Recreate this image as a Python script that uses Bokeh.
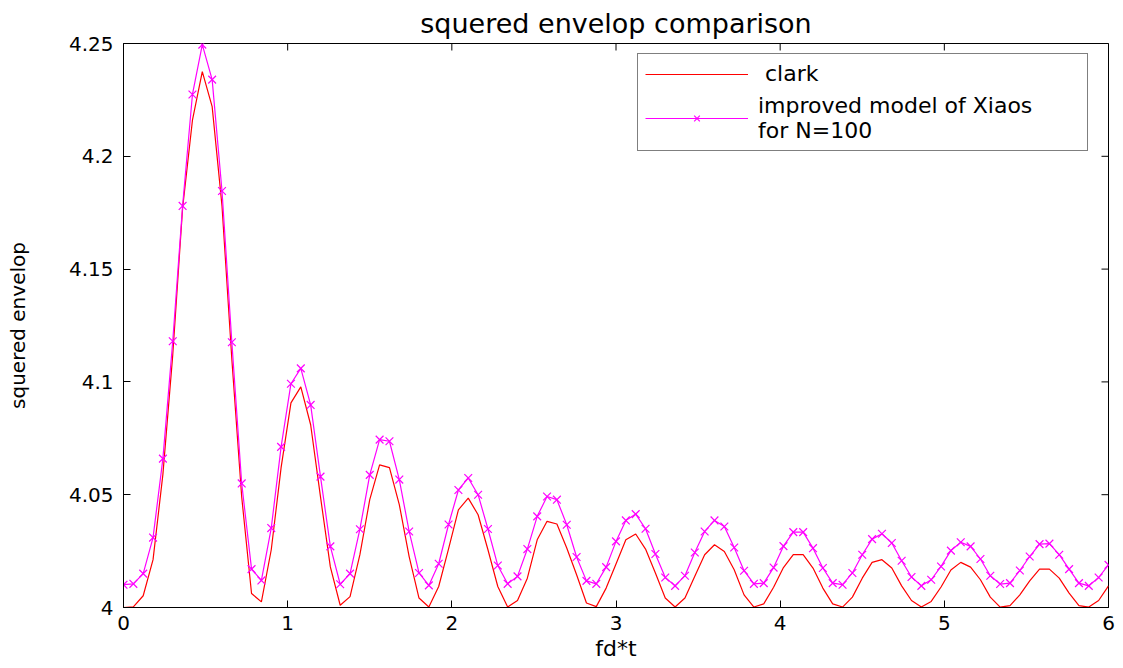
import math
from bokeh.plotting import figure
from bokeh.models import (Range1d, FixedTicker, Legend, LegendItem,
                          CustomJSTickFormatter)
from bokeh.embed import file_html
from bokeh.resources import INLINE

# ---------------- data ----------------
fd_t = [0.00, 0.06, 0.12, 0.18, 0.24, 0.30, 0.36, 0.42, 0.48, 0.54,
        0.60, 0.66, 0.72, 0.78, 0.84, 0.90, 0.96, 1.02, 1.08, 1.14,
        1.20, 1.26, 1.32, 1.38, 1.44, 1.50, 1.56, 1.62, 1.68, 1.74,
        1.80, 1.86, 1.92, 1.98, 2.04, 2.10, 2.16, 2.22, 2.28, 2.34,
        2.40, 2.46, 2.52, 2.58, 2.64, 2.70, 2.76, 2.82, 2.88, 2.94,
        3.00, 3.06, 3.12, 3.18, 3.24, 3.30, 3.36, 3.42, 3.48, 3.54,
        3.60, 3.66, 3.72, 3.78, 3.84, 3.90, 3.96, 4.02, 4.08, 4.14,
        4.20, 4.26, 4.32, 4.38, 4.44, 4.50, 4.56, 4.62, 4.68, 4.74,
        4.80, 4.86, 4.92, 4.98, 5.04, 5.10, 5.16, 5.22, 5.28, 5.34,
        5.40, 5.46, 5.52, 5.58, 5.64, 5.70, 5.76, 5.82, 5.88, 5.94,
        6.00]

clark = [4.0000, 4.0003, 4.0052, 4.0212, 4.0590, 4.1120, 4.1770, 4.2160, 4.2375, 4.2220,
         4.1780, 4.1100, 4.0490, 4.0062, 4.0025, 4.0256, 4.0620, 4.0907, 4.0978, 4.0810,
         4.0490, 4.0180, 4.0010, 4.0048, 4.0234, 4.0478, 4.0632, 4.0620, 4.0456, 4.0226,
         4.0042, 4.0002, 4.0093, 4.0260, 4.0433, 4.0485, 4.0411, 4.0256, 4.0093, 4.0002,
         4.0031, 4.0130, 4.0300, 4.0382, 4.0370, 4.0264, 4.0145, 4.0020, 4.0004, 4.0086,
         4.0193, 4.0300, 4.0326, 4.0259, 4.0153, 4.0042, 4.0002, 4.0042, 4.0138, 4.0234,
         4.0278, 4.0248, 4.0167, 4.0056, 4.0002, 4.0016, 4.0090, 4.0177, 4.0234, 4.0234,
         4.0175, 4.0086, 4.0016, 4.0002, 4.0046, 4.0130, 4.0200, 4.0212, 4.0175, 4.0096,
         4.0031, 4.0002, 4.0027, 4.0091, 4.0166, 4.0200, 4.0179, 4.0123, 4.0046, 4.0002,
         4.0008, 4.0056, 4.0118, 4.0170, 4.0170, 4.0130, 4.0064, 4.0008, 4.0002, 4.0031,
         4.0096]

xiao = [4.0101, 4.0105, 4.0150, 4.0310, 4.0660, 4.1180, 4.1780, 4.2274, 4.2495, 4.2340,
        4.1846, 4.1176, 4.0550, 4.0170, 4.0120, 4.0352, 4.0712, 4.0992, 4.1060, 4.0898,
        4.0580, 4.0271, 4.0103, 4.0150, 4.0347, 4.0588, 4.0744, 4.0737, 4.0567, 4.0337,
        4.0153, 4.0098, 4.0194, 4.0368, 4.0521, 4.0574, 4.0500, 4.0348, 4.0186, 4.0105,
        4.0138, 4.0259, 4.0404, 4.0492, 4.0478, 4.0367, 4.0224, 4.0118, 4.0105, 4.0179,
        4.0293, 4.0386, 4.0414, 4.0349, 4.0237, 4.0133, 4.0096, 4.0141, 4.0244, 4.0337,
        4.0386, 4.0359, 4.0266, 4.0163, 4.0105, 4.0108, 4.0177, 4.0272, 4.0334, 4.0334,
        4.0263, 4.0175, 4.0108, 4.0101, 4.0153, 4.0234, 4.0303, 4.0327, 4.0286, 4.0207,
        4.0135, 4.0096, 4.0123, 4.0182, 4.0252, 4.0289, 4.0271, 4.0215, 4.0141, 4.0104,
        4.0108, 4.0164, 4.0226, 4.0281, 4.0283, 4.0234, 4.0170, 4.0108, 4.0096, 4.0133,
        4.0189]

x_ticks = [0, 1, 2, 3, 4, 5, 6]
y_ticks = [4.0, 4.05, 4.1, 4.15, 4.2, 4.25]
x_min, x_max = 0, 6
y_min, y_max = 4.0, 4.25
title_text = "squered envelop comparison"
x_label = "fd*t"
y_label = "squered envelop"
series_names = [" clark", "improved model of Xiaos\nfor N=100"]

FONT = "DejaVu Sans"

p = figure(width=1123, height=668, output_backend="svg", toolbar_location=None,
           x_range=Range1d(x_min, x_max), y_range=Range1d(y_min, y_max),
           title=title_text, x_axis_label=x_label, y_axis_label=y_label)
p.min_border_left = 123
p.min_border_right = 15
p.min_border_top = 43
p.min_border_bottom = 61
p.background_fill_color = "white"
p.border_fill_color = "white"
p.outline_line_color = "black"
p.outline_line_width = 1
p.grid.visible = False

p.title.align = "center"
p.title.text_font = FONT
p.title.text_font_size = "27px"
p.title.text_font_style = "normal"
p.title.text_color = "black"
p.title.standoff = 10
p.title.offset = 4

fmt = CustomJSTickFormatter(code="""
    var s = tick.toFixed(2);
    s = s.replace(/0+$/, '');
    s = s.replace(/\\.$/, '');
    return s;
""")

for ax, ticks in ((p.xaxis[0], x_ticks), (p.yaxis[0], y_ticks)):
    ax.ticker = FixedTicker(ticks=ticks)
    ax.major_tick_in = 7
    ax.major_tick_out = 0
    ax.minor_tick_line_color = None
    ax.axis_line_color = "black"
    ax.major_tick_line_color = "black"
    ax.major_label_text_font = FONT
    ax.major_label_text_font_size = "20px"
    ax.major_label_text_color = "black"
    ax.axis_label_text_font = FONT
    ax.axis_label_text_font_style = "normal"
    ax.axis_label_text_color = "black"

xa = p.xaxis[0]
ya = p.yaxis[0]
ya.formatter = fmt
xa.major_label_standoff = 8
ya.major_label_standoff = 10
xa.axis_label_text_font_size = "22px"
xa.axis_label_standoff = 3
ya.axis_label_text_font_size = "20px"
ya.axis_label_standoff = 36

r1 = p.line(fd_t, clark, line_color="#ff0000", line_width=1.2)
r2 = p.line(fd_t, xiao, line_color="#ff00ff", line_width=1.2)
r3 = p.scatter(fd_t, xiao, marker="x", size=11, line_color="#ff00ff", line_width=1.2)

# inward tick marks on the top and right edges of the box (half clipped by the frame)
p.scatter(x_ticks, [y_max] * len(x_ticks), marker="dash", angle=math.pi / 2,
          size=14, line_color="black", line_width=1)
p.scatter([x_max] * len(y_ticks), y_ticks, marker="dash", angle=0,
          size=14, line_color="black", line_width=1)

legend = Legend(items=[LegendItem(label=series_names[0], renderers=[r1]),
                       LegendItem(label=series_names[1], renderers=[r2, r3])],
                location=(514, 456))
legend.border_line_color = "black"
legend.border_line_width = 1
legend.background_fill_color = "white"
legend.background_fill_alpha = 1
legend.label_text_font = FONT
legend.label_text_font_size = "22px"
legend.label_text_line_height = 1.15
legend.label_text_color = "black"
legend.glyph_width = 103
legend.glyph_height = 20
legend.label_height = 20
legend.label_standoff = 10
legend.label_width = 322
legend.padding = 7
legend.spacing = 7
legend.margin = 0
p.add_layout(legend)

open("out.html", "w").write(file_html(p, INLINE))
